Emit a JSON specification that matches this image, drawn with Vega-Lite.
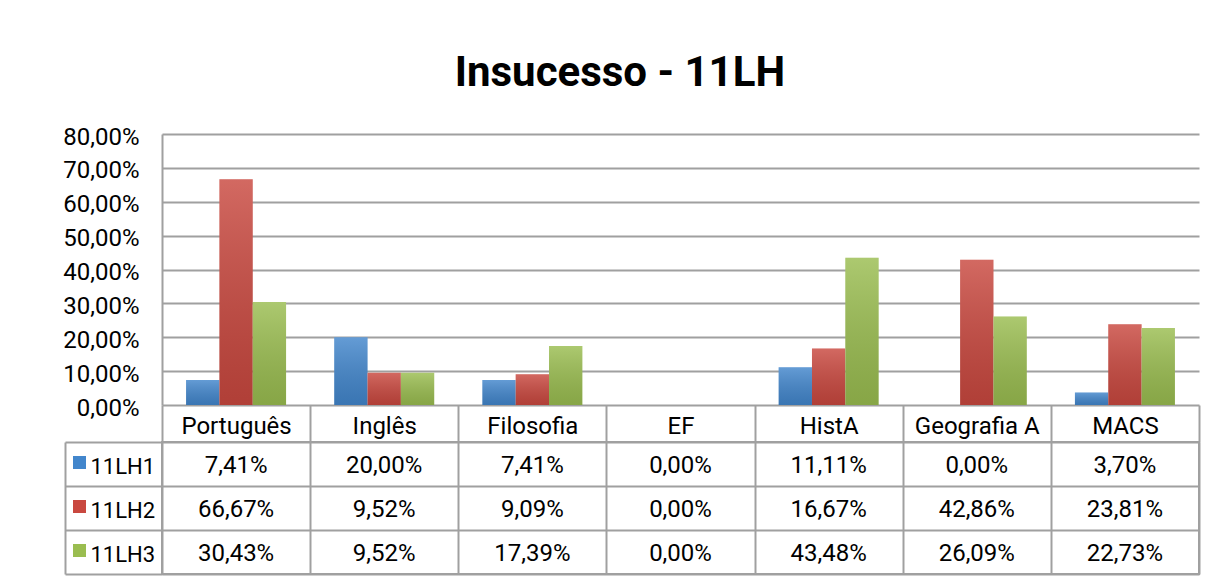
{
  "$schema": "https://vega.github.io/schema/vega-lite/v6.json",
  "padding": {"left": 62, "top": 52, "right": 5, "bottom": 5},
  "background": "white",
  "title": {"text": "Insucesso - 11LH", "fontSize": 42, "font": "Roboto", "fontWeight": "bold", "color": "#000000", "anchor": "middle", "offset": 30, "dx": -12},
  "config": {
    "locale": {"number": {"decimal": ",", "thousands": ".", "grouping": [3], "currency": ["", " €"]}},
    "font": "Roboto"
  },
  "data": {"values": [
    {"disciplina": "Português", "turma": "11LH1", "valor": 0.0741},
    {"disciplina": "Português", "turma": "11LH2", "valor": 0.6667},
    {"disciplina": "Português", "turma": "11LH3", "valor": 0.3043},
    {"disciplina": "Inglês", "turma": "11LH1", "valor": 0.20},
    {"disciplina": "Inglês", "turma": "11LH2", "valor": 0.0952},
    {"disciplina": "Inglês", "turma": "11LH3", "valor": 0.0952},
    {"disciplina": "Filosofia", "turma": "11LH1", "valor": 0.0741},
    {"disciplina": "Filosofia", "turma": "11LH2", "valor": 0.0909},
    {"disciplina": "Filosofia", "turma": "11LH3", "valor": 0.1739},
    {"disciplina": "EF", "turma": "11LH1", "valor": 0},
    {"disciplina": "EF", "turma": "11LH2", "valor": 0},
    {"disciplina": "EF", "turma": "11LH3", "valor": 0},
    {"disciplina": "HistA", "turma": "11LH1", "valor": 0.1111},
    {"disciplina": "HistA", "turma": "11LH2", "valor": 0.1667},
    {"disciplina": "HistA", "turma": "11LH3", "valor": 0.4348},
    {"disciplina": "Geografia A", "turma": "11LH1", "valor": 0},
    {"disciplina": "Geografia A", "turma": "11LH2", "valor": 0.4286},
    {"disciplina": "Geografia A", "turma": "11LH3", "valor": 0.2609},
    {"disciplina": "MACS", "turma": "11LH1", "valor": 0.037},
    {"disciplina": "MACS", "turma": "11LH2", "valor": 0.2381},
    {"disciplina": "MACS", "turma": "11LH3", "valor": 0.2273}
  ]},
  "spacing": 37,
  "bounds": "flush",
  "resolve": {"scale": {"x": "independent", "y": "independent"}},
  "vconcat": [
    {
      "width": 1037,
      "height": 271,
      "view": {"stroke": null},
      "encoding": {
        "x": {"field": "disciplina", "type": "nominal", "sort": null,
              "scale": {"type": "band", "domain": ["Português", "Inglês", "Filosofia", "EF", "HistA", "Geografia A", "MACS"], "paddingInner": 0.325, "paddingOuter": 0.1625},
              "axis": null},
        "xOffset": {"field": "turma", "type": "nominal", "scale": {"domain": ["11LH1", "11LH2", "11LH3"], "paddingInner": 0, "paddingOuter": 0}},
        "y": {"field": "valor", "type": "quantitative",
              "scale": {"domain": [0, 0.8], "nice": false},
              "axis": {"values": [0, 0.1, 0.2, 0.3, 0.4, 0.5, 0.6, 0.7, 0.8], "format": ".2%", "title": null,
                       "grid": true, "gridColor": "#a0a0a0", "gridWidth": 2,
                       "domain": true, "domainColor": "#a0a0a0", "domainWidth": 2,
                       "ticks": false, "labelPadding": 23, "labelFontSize": 24, "labelColor": "#000000",
                       "labelFont": "Roboto", "labelOffset": 3}}
      },
      "layer": [
        {
          "mark": {"type": "bar"},
          "encoding": {
            "color": {"field": "turma", "type": "nominal",
                      "scale": {"domain": ["11LH1", "11LH2", "11LH3"], "range": ["#4286cc", "#c9483f", "#9abd50"]},
                      "legend": {"orient": "none", "legendX": -89, "legendY": 322, "title": null,
                                 "symbolType": "square", "symbolSize": 169, "symbolStrokeWidth": 0,
                                 "labelExpr": "''", "labelFontSize": 1, "rowPadding": 31, "padding": 0}}
          }
        },
        {
          "mark": {"type": "bar",
                   "color": {"gradient": "linear", "x1": 0, "y1": 0, "x2": 0, "y2": 1,
                             "stops": [{"offset": 0, "color": "rgba(255,255,255,0.18)"}, {"offset": 1, "color": "rgba(0,0,0,0.12)"}]}}
        }
      ]
    },
    {
      "width": 1037,
      "height": 132,
      "view": {"stroke": "#a0a0a0", "strokeWidth": 2},
      "mark": {"type": "text", "fontSize": 24, "font": "Roboto", "color": "#000000", "dy": 2},
      "encoding": {
        "x": {"field": "disciplina", "type": "nominal", "sort": null,
              "scale": {"type": "band", "domain": ["Português", "Inglês", "Filosofia", "EF", "HistA", "Geografia A", "MACS"], "paddingInner": 0, "paddingOuter": 0},
              "axis": {"orient": "top", "title": null, "tickBand": "extent", "tickSize": 37, "tickColor": "#a0a0a0", "tickWidth": 2,
                       "grid": true, "gridColor": "#a0a0a0", "gridWidth": 2, "domain": false,
                       "labelPadding": -21, "labelFontSize": 24, "labelColor": "#000000", "labelAngle": 0, "labelBaseline": "middle", "labelFont": "Roboto"}},
        "y": {"field": "turma", "type": "nominal",
              "scale": {"type": "band", "domain": ["11LH1", "11LH2", "11LH3"], "paddingInner": 0, "paddingOuter": 0},
              "axis": {"orient": "left", "title": null, "offset": 97, "tickBand": "extent", "tickSize": -97, "tickColor": "#a0a0a0", "tickWidth": 2,
                       "grid": true, "gridColor": "#a0a0a0", "gridWidth": 2,
                       "domain": true, "domainColor": "#a0a0a0", "domainWidth": 2,
                       "labelAlign": "left", "labelPadding": 72, "labelFontSize": 22, "labelColor": "#000000", "labelOffset": 2, "labelBaseline": "middle", "labelFont": "Roboto"}},
        "text": {"field": "valor", "type": "quantitative", "format": ".2%"}
      }
    }
  ]
}
